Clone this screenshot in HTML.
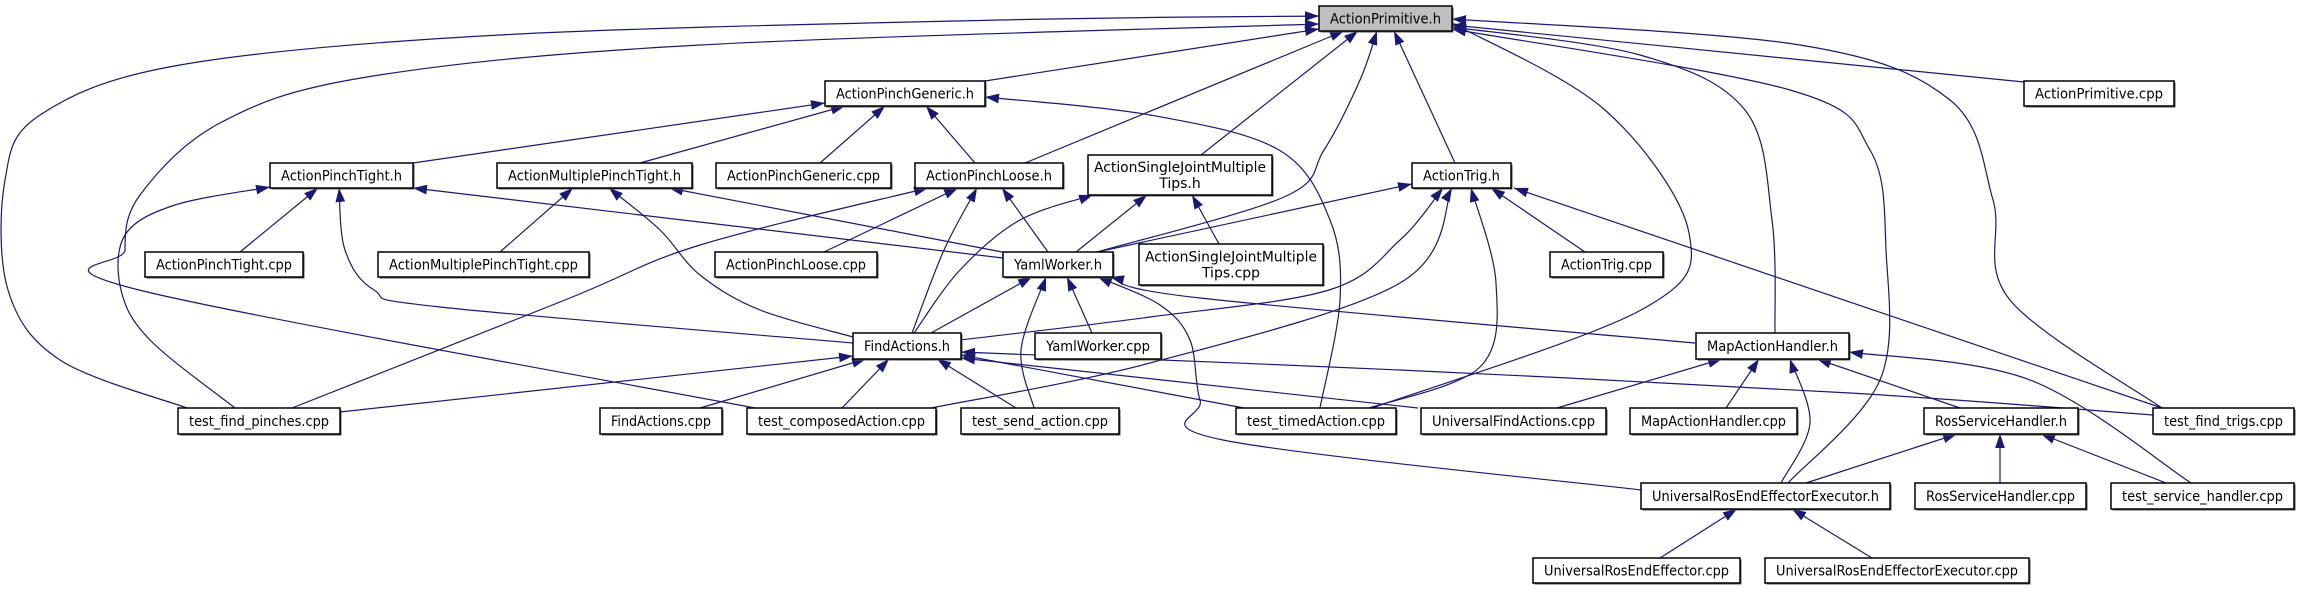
<!DOCTYPE html>
<html><head><meta charset="utf-8"><style>
html,body{margin:0;padding:0;background:#fff;}
svg{display:block;}
text{font-family:"DejaVu Sans","Liberation Sans",sans-serif;font-size:14px;fill:#000;}
</style></head><body>
<svg id="g" width="2299" height="589" viewBox="0 0 2299 589" xmlns="http://www.w3.org/2000/svg">
<defs><marker id="a" viewBox="0 0 10 7" markerUnits="userSpaceOnUse" markerWidth="14" markerHeight="10" refX="10" refY="3.5" orient="auto"><path d="M0,0 L10,3.5 L0,7 z" fill="#191970"/></marker></defs>
<g id="edges" fill="none" stroke="#191970" stroke-width="1.2"></g>
<g id="nodes"></g>
</svg>
<script>
var N=[
["ActionPrimitive.h",1319,6,1452,31,1],
["ActionPinchGeneric.h",825,81,985,106],
["ActionPrimitive.cpp",2024,81,2174,106],
["ActionPinchTight.h",270,163,413,188],
["ActionMultiplePinchTight.h",497,163,692,188],
["ActionPinchGeneric.cpp",716,163,891,188],
["ActionPinchLoose.h",915,163,1063,188],
["ActionSingleJointMultiple|Tips.h",1088,155,1272,195],
["ActionTrig.h",1412,163,1511,188],
["ActionPinchTight.cpp",145,252,303,277],
["ActionMultiplePinchTight.cpp",378,252,589,277],
["ActionPinchLoose.cpp",715,252,877,277],
["YamlWorker.h",1003,252,1113,277],
["ActionSingleJointMultiple|Tips.cpp",1139,244,1323,285],
["ActionTrig.cpp",1550,252,1663,277],
["FindActions.h",853,333,961,359],
["YamlWorker.cpp",1035,333,1161,359],
["MapActionHandler.h",1696,333,1849,359],
["test_find_pinches.cpp",178,408,340,434],
["FindActions.cpp",600,408,722,434],
["test_composedAction.cpp",747,408,936,434],
["test_send_action.cpp",961,408,1119,434],
["test_timedAction.cpp",1236,408,1396,434],
["UniversalFindActions.cpp",1421,408,1606,434],
["MapActionHandler.cpp",1630,408,1797,434],
["RosServiceHandler.h",1924,408,2078,434],
["test_find_trigs.cpp",2153,408,2294,434],
["UniversalRosEndEffectorExecutor.h",1641,483,1890,509],
["RosServiceHandler.cpp",1915,483,2086,509],
["test_service_handler.cpp",2111,483,2294,509],
["UniversalRosEndEffector.cpp",1533,558,1740,583],
["UniversalRosEndEffectorExecutor.cpp",1765,558,2029,583]
];
var E=[
[[985,81],[1319,29]],
[[2024,82],[1452,25]],
[[1025,163],[1344,31]],
[[1201,155],[1358,31]],
[[1097,252],[1284,197],[1324,150],[1360,80],[1377,31]],
[[1455,163],[1394,31]],
[[1775,333],[1772,220],[1745,110],[1640,55],[1452,27]],
[[1372,408],[1641,310],[1689,233],[1605,110],[1452,23]],
[[1788,483],[1880,380],[1886,250],[1870,150],[1790,90],[1452,29]],
[[2162,408],[2010,300],[1993,200],[1950,100],[1800,45],[1452,19]],
[[187,408],[60,360],[8,290],[5,180],[40,115],[180,65],[500,35],[1000,20],[1319,16]],
[[755,408],[139,290],[125,250],[140,195],[220,123],[367,77],[700,45],[1319,24]],
[[413,163],[825,103]],
[[640,163],[845,106]],
[[820,163],[885,106]],
[[975,163],[926,106]],
[[1320,408],[1340,300],[1330,220],[1279,150],[1150,115],[985,97]],
[[240,252],[318,188]],
[[235,408],[150,340],[121,290],[125,235],[175,205],[270,187]],
[[853,343],[440,307],[374,290],[345,250],[339,188]],
[[1003,258],[413,188]],
[[500,252],[573,188]],
[[853,337],[760,310],[700,275],[660,230],[609,188]],
[[1002,252],[669,188]],
[[292,408],[565,300],[700,245],[928,188]],
[[824,252],[958,188]],
[[912,333],[944,250],[977,188]],
[[1048,252],[1002,188]],
[[914,333],[960,270],[1020,220],[1093,195]],
[[1076,252],[1147,195]],
[[1219,244],[1192,195]],
[[1097,252],[1412,184]],
[[960,340],[1150,317],[1329,290],[1400,240],[1443,188]],
[[931,408],[1150,363],[1400,283],[1452,188]],
[[1369,408],[1480,367],[1496,283],[1471,188]],
[[1585,252],[1491,188]],
[[2162,408],[1514,188]],
[[931,333],[1032,277]],
[[1092,333],[1067,277]],
[[1034,408],[1021,350],[1046,277]],
[[1695,343],[1200,298],[1110,277]],
[[1641,490],[1223,440],[1200,400],[1190,340],[1160,305],[1098,277]],
[[340,412],[853,356]],
[[700,408],[866,359]],
[[842,408],[889,359]],
[[1016,408],[937,359]],
[[1244,408],[961,355]],
[[1418,408],[961,358]],
[[2153,415],[1850,393],[1400,370],[961,352]],
[[1557,408],[1722,359]],
[[1726,408],[1759,359]],
[[1781,483],[1810,423],[1790,359]],
[[1960,408],[1817,359]],
[[2191,483],[2030,380],[1849,352]],
[[1806,483],[1957,434]],
[[2000,483],[2000,434]],
[[2166,483],[2041,434]],
[[1660,558],[1737,509]],
[[1872,558],[1792,509]]
];
var NS="http://www.w3.org/2000/svg";
function el(t,a,p){var e=document.createElementNS(NS,t);for(var k in a)e.setAttribute(k,a[k]);p.appendChild(e);return e;}
var eg=document.getElementById("edges"),ng=document.getElementById("nodes");
E.forEach(function(p){
  var d="M"+p[0][0]+","+p[0][1];
  if(p.length==2){d+=" L"+p[1][0]+","+p[1][1];}
  else{
    for(var i=0;i<p.length-1;i++){
      var p0=p[i-1]||p[i],p1=p[i],p2=p[i+1],p3=p[i+2]||p2;
      var c1=[p1[0]+(p2[0]-p0[0])/6,p1[1]+(p2[1]-p0[1])/6];
      var c2=[p2[0]-(p3[0]-p1[0])/6,p2[1]-(p3[1]-p1[1])/6];
      d+=" C"+c1[0].toFixed(1)+","+c1[1].toFixed(1)+" "+c2[0].toFixed(1)+","+c2[1].toFixed(1)+" "+p2[0]+","+p2[1];
    }
  }
  el("path",{d:d,"marker-end":"url(#a)"},eg);
});
N.forEach(function(n){
  var x=n[1],y=n[2],w=n[3]-n[1],h=n[4]-n[2];
  el("rect",{x:x+1.5,y:y+1.5,width:w,height:h,fill:"#555"},ng);
  el("rect",{x:x,y:y,width:w,height:h,fill:n[5]?"#bfbfbf":"#fff",stroke:"#000","stroke-width":1.5},ng);
  var lines=n[0].split("|");
  if(lines.length==1){
    var t=el("text",{x:x+w/2,y:y+h/2+5,"text-anchor":"middle",textLength:w-22,lengthAdjust:"spacingAndGlyphs"},ng);
    t.textContent=lines[0];
  }else{
    var t1=el("text",{x:x+w/2,y:y+h/2-3,"text-anchor":"middle",textLength:w-12,lengthAdjust:"spacingAndGlyphs"},ng);
    t1.textContent=lines[0];
    var t2=el("text",{x:x+w/2,y:y+h/2+13,"text-anchor":"middle"},ng);
    t2.textContent=lines[1];
  }
});
</script>
</body></html>
